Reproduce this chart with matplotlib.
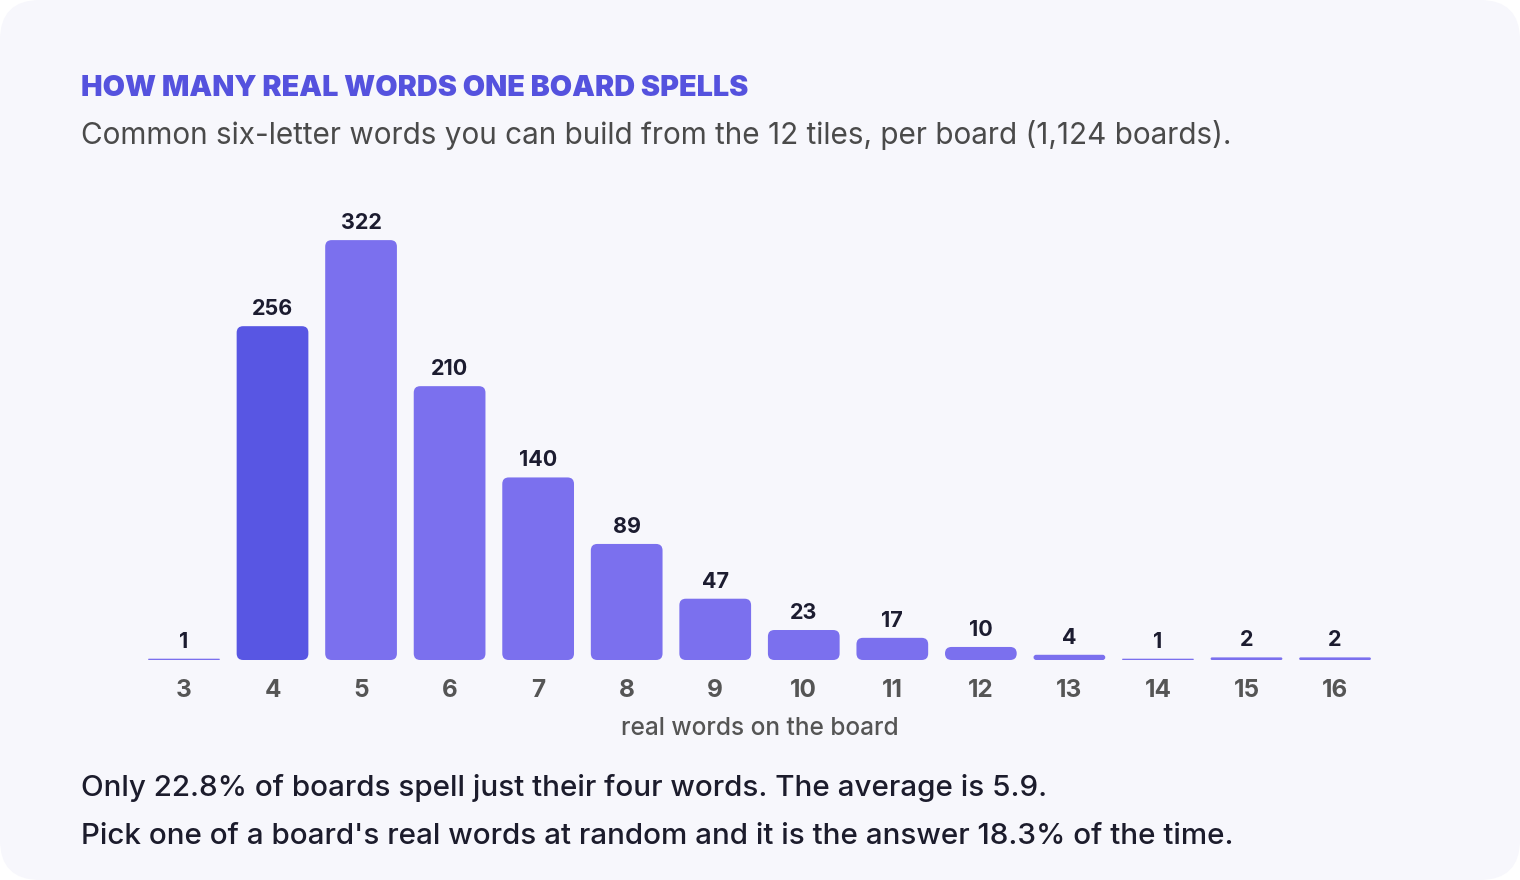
import matplotlib.pyplot as plt
import matplotlib.transforms as mtransforms
from matplotlib.patches import FancyBboxPatch

plt.rcParams['font.family'] = ['Inter', 'DejaVu Sans']

# data
words = [3, 4, 5, 6, 7, 8, 9, 10, 11, 12, 13, 14, 15, 16]
boards = [1, 256, 322, 210, 140, 89, 47, 23, 17, 10, 4, 1, 2, 2]
highlight = 4

title = "HOW MANY REAL WORDS ONE BOARD SPELLS"
subtitle = "Common six-letter words you can build from the 12 tiles, per board (1,124 boards)."
note1 = "Only 22.8% of boards spell just their four words. The average is 5.9."
note2 = "Pick one of a board's real words at random and it is the answer 18.3% of the time."

W, H = 1520, 880
BAR = '#7b70ee'
HI = '#5856e3'
CARD = '#f7f7fc'

fig = plt.figure(figsize=(W / 100, H / 100), dpi=100)
fig.patch.set_facecolor('white')

# rounded card behind everything (pixel coords)
card = FancyBboxPatch((0, 0), W, H, boxstyle="round,pad=0,rounding_size=40",
                      transform=mtransforms.IdentityTransform(),
                      facecolor=CARD, edgecolor='none', zorder=-5)
fig.patches.append(card)

# axes placed so bar centres land where they are in the reference
left_px, right_px = 139.7, 1379.3
base_px, top_px = 660, 200
ax = fig.add_axes([left_px / W, (H - base_px) / H,
                   (right_px - left_px) / W, (base_px - top_px) / H])
ax.set_facecolor('none')
ax.set_xlim(2.5, 16.5)
ymax = (base_px - top_px) / 1.304
ax.set_ylim(0, ymax)
for s in ax.spines.values():
    s.set_visible(False)
ax.set_yticks([])
ax.set_xticks(words)
ax.set_xticklabels([str(w) for w in words])
ax.tick_params(axis='x', length=0, pad=13.5, labelsize=17.5, labelcolor='#555555')
for lab in ax.get_xticklabels():
    lab.set_fontweight('bold')
ax.set_xlabel("real words on the board", fontsize=17.6, color='#555555',
              fontweight='medium', labelpad=11)

bars = ax.bar(words, boards, width=0.81,
              color=[HI if w == highlight else BAR for w in words])

# swap the plain rectangles for rounded ones
xpp = 14 / (right_px - left_px)
ypp = ymax / (base_px - top_px)
for rect in bars:
    x, y = rect.get_x(), rect.get_y()
    w, h = rect.get_width(), rect.get_height()
    r_px = min(6.5, h / ypp / 2)
    rb = FancyBboxPatch((x, y), w, h,
                        boxstyle="round,pad=0,rounding_size=%f" % (r_px * xpp),
                        mutation_aspect=ypp / xpp,
                        facecolor=rect.get_facecolor(), edgecolor='none')
    rect.set_visible(False)
    ax.add_patch(rb)

for w, b in zip(words, boards):
    ax.annotate(str(b), (w, b), xytext=(0, 5), textcoords='offset points',
                ha='center', va='bottom', fontsize=15.5, fontweight='bold',
                color='#1c1c30')

fig.text(81 / W, 1 - 88 / H, title, fontsize=20.7, fontweight='black',
         color='#5552de', va='center', ha='left')
fig.text(81 / W, 1 - 135 / H, subtitle, fontsize=21.4, color='#4a4a4a',
         va='center', ha='left')
fig.text(81 / W, 1 - 788 / H, note1, fontsize=21.3, fontweight='medium',
         color='#1c1c2c', va='center', ha='left')
fig.text(81 / W, 1 - 836 / H, note2, fontsize=21.3, fontweight='medium',
         color='#1c1c2c', va='center', ha='left')

fig.savefig('out.png', dpi=100, facecolor=fig.get_facecolor())
